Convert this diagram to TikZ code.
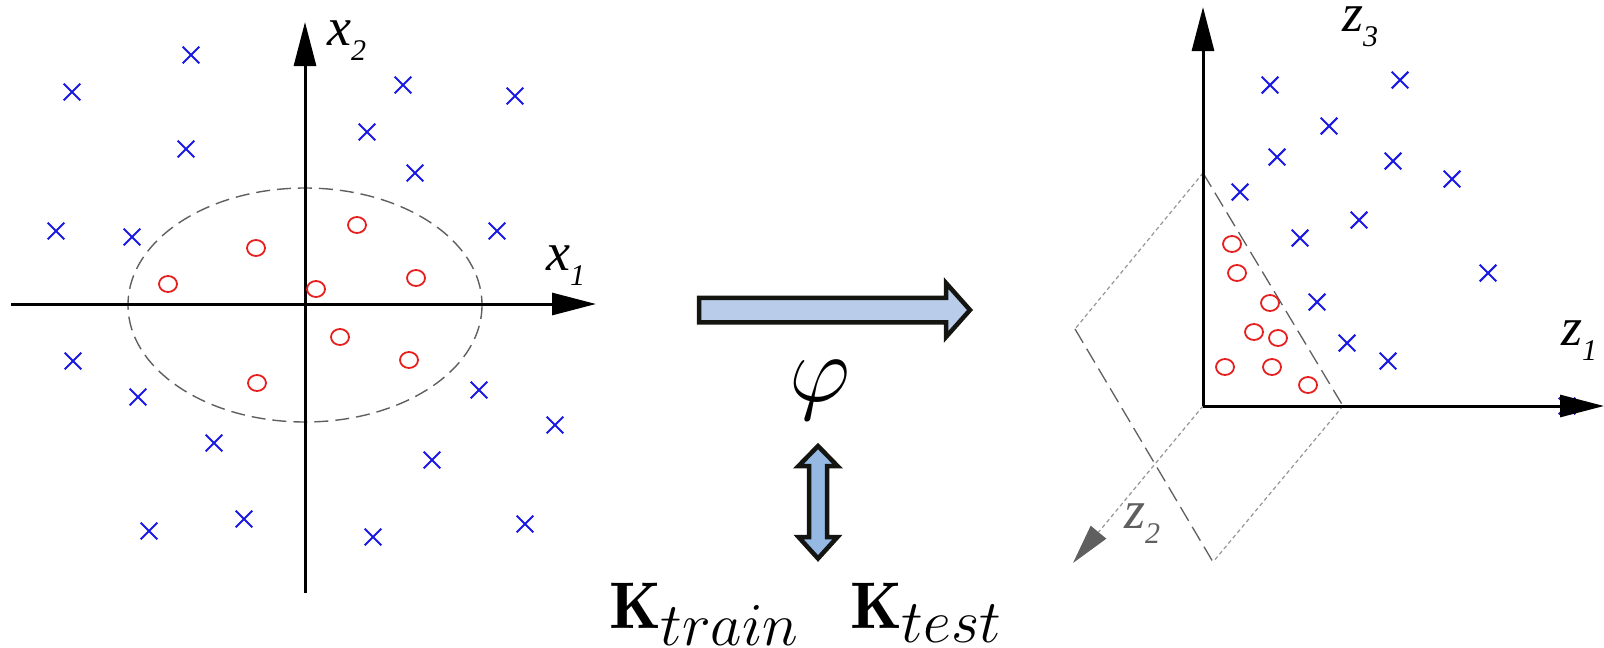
\documentclass[tikz,border=0pt]{standalone}
\usepackage{fix-cm}
\usepackage{fontspec}
\newfontfamily\labfont{Liberation Serif}
\usetikzlibrary{arrows.meta}
\DeclareMathSizes{66}{66}{61}{40}
\definecolor{xblue}{RGB}{25,25,225}
\definecolor{ored}{RGB}{230,30,30}
\definecolor{lightarrow}{RGB}{185,205,235}
\definecolor{darkarrow}{RGB}{150,185,228}
\definecolor{arrowborder}{RGB}{20,20,16}
\definecolor{dashgray}{RGB}{95,95,95}
\definecolor{dotgray}{RGB}{150,150,150}
\tikzset{
  xstyle/.style={draw=xblue,line width=2.1pt},
  ostyle/.style={draw=ored,line width=1.8pt},
  xmark/.pic={\path[xstyle] (-8.3,-8.3)--(8.3,8.3) (-8.3,8.3)--(8.3,-8.3);},
  omark/.pic={\path[ostyle] (0,0) ellipse [x radius=9,y radius=8];},
  axis/.style={line width=3pt,-{Triangle[length=44pt,width=22pt]}},
  longdash/.style={draw=dashgray,line width=1.3pt,dash pattern=on 16pt off 7pt},
  shortdot/.style={draw=dotgray,line width=1.2pt,dash pattern=on 4pt off 3pt},
  fatarrow/.style={line width=4.5pt,draw=arrowborder,miter limit=10},
  lab/.style={anchor=base west,inner sep=0pt,font=\labfont\itshape\fontsize{54}{54}\selectfont},
}
\newcommand{\sublab}[1]{\raisebox{-15pt}{\labfont\itshape\fontsize{30}{30}\selectfont #1}}
\begin{document}
\begin{tikzpicture}[x=1pt,y=-1pt]
\useasboundingbox (0,0) rectangle (1604,648);
% ---------------- left panel ----------------
\coordinate (lo) at (305,304);
\draw[dashgray,line width=1.4pt,dash pattern=on 14pt off 7pt] (305,305) ellipse [x radius=177,y radius=117];
\draw[axis] (11,304) -- (596,304);
\draw[axis] (305,593) -- (305,22);
\node[lab] (x2) at (327,45) {x\sublab{2}};
\node[lab] (x1) at (546,270) {x\sublab{1}};
\foreach \p in {(191,55),(72,92),(403,85),(515,96),(186,149),(367,132),(415,173),(56,231),(132,237),(497,231),
  (73,361),(138,397),(479,390),(555,425),(214,443),(432,460),(149,531),(244,519),(373,537),(525,524)}
  \pic at \p {xmark};
\foreach \p in {(168,284),(256,248),(357,225),(316,289),(416,278),(340,337),(409,360),(257,383)}
  \pic at \p {omark};
% ---------------- middle ----------------
\path[fatarrow,fill=lightarrow] (699,297.75) -- (946,297.75) -- (946,283) -- (970,310) -- (946,337) -- (946,322.25) -- (699,322.25) -- cycle;
\node[inner sep=0pt,anchor=base,font=\fontsize{95}{95}\selectfont] (phi) at (820,401) {$\varphi$};
\path[fatarrow,fill=darkarrow] (818,446) -- (837.5,466) -- (827,466) -- (827,537) -- (837.5,537) -- (818,558.5) -- (798.5,537) -- (809,537) -- (809,466) -- (798.5,466) -- cycle;
\node[inner sep=0pt,anchor=base west,font=\fontsize{66}{66}\selectfont] (ktrain) at (609,628) {$\mathbf{K}_{train}$};
\node[inner sep=0pt,anchor=base west,font=\fontsize{66}{66}\selectfont] (ktest) at (850,628) {$\mathbf{K}_{test}$};
% ---------------- right panel ----------------
\coordinate (ro) at (1203,406);
\coordinate (pa) at (1203,173);
\coordinate (pr) at (1343,406);
\coordinate (pb) at (1213,562);
\coordinate (pl) at (1075,329);
\coordinate (z2tip) at (1073,563);
\path[shortdot] (pa) -- (pl);
\path[shortdot] (pr) -- (pb);
\path[longdash] (pa) -- (pr);
\path[longdash] (pl) -- (pb);
\draw[shortdot,-{Triangle[length=40pt,width=20pt,color=dashgray]}] (ro) -- (z2tip);
\pic at (1567,406) {xmark};
\draw[axis] (ro) -- (1604,406);
\draw[axis] (ro) -- (1203,7);
\node[lab] (z3) at (1342,31) {z\sublab{3}};
\node[lab] (z1) at (1561,345) {z\sublab{1}};
\node[lab,text=dashgray] (z2) at (1124,528) {z\sublab{2}};
\foreach \p in {(1270,85),(1400,80),(1329,126),(1277,157),(1393,161),(1452,179),(1240,192),(1359,220),(1300,238),
  (1488,273),(1317,302),(1347,343),(1388,361)}
  \pic at \p {xmark};
\foreach \p in {(1232,244),(1237,273),(1270,303),(1254,332),(1278,338),(1225,367),(1272,367),(1308,385)}
  \pic at \p {omark};
\end{tikzpicture}
\end{document}
